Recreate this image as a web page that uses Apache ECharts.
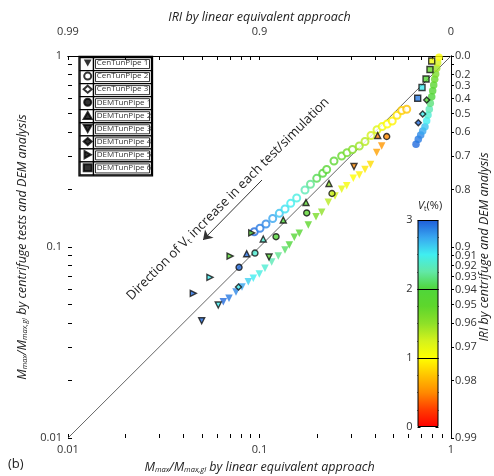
<!DOCTYPE html>
<html lang="en">
<head>
<meta charset="UTF-8">
<title>IRI comparison</title>
<script src="https://cdn.jsdelivr.net/npm/echarts@6/dist/echarts.min.js"></script>
<style>html,body{margin:0;padding:0;background:#fff;}</style>
</head>
<body>
<div id="main" style="width:494px;height:476px;"></div>
<script>
// ---- data (Mmax/Mmax,gl linear equivalent, centrifuge/DEM, Vt %) ----
var cen1X = [0.0647,0.0693,0.0754,0.0810,0.0874,0.0928,0.0998,0.1068,0.1158,0.1254,0.1359,0.1431,0.1520,0.1614,0.1798,0.1972,0.2113,0.2287,0.2479,0.2686,0.2853,0.3089,0.3320,0.3556,0.3799,0.4093,0.4346];
var cen1Y = [0.0517,0.0539,0.0581,0.0617,0.0658,0.0686,0.0722,0.0774,0.0835,0.0897,0.0965,0.1024,0.1124,0.1180,0.1304,0.1441,0.1520,0.1714,0.1849,0.2005,0.2094,0.2289,0.2382,0.2545,0.2704,0.3126,0.3380];
var cen1V = [2.95,2.9,2.85,2.75,2.6,2.5,2.45,2.4,2.3,2.2,2.1,2.0,1.9,1.85,1.75,1.6,1.5,1.35,1.25,1.15,1.05,1.0,0.95,0.9,0.85,0.6,0.55];

var cen2X = [0.0939,0.1006,0.1081,0.1172,0.1269,0.1359,0.1455,0.1564,0.1728,0.1846,0.1990,0.2138,0.2243,0.2449,0.2686,0.2863,0.3059,0.3320,0.3556,0.3822,0.4109,0.4372,0.4643,0.4932,0.5224,0.5529,0.5872];
var cen2Y = [0.1202,0.1253,0.1319,0.1410,0.1501,0.1581,0.1693,0.1805,0.1988,0.2130,0.2289,0.2431,0.2545,0.2820,0.2995,0.3118,0.3240,0.3380,0.3568,0.3835,0.4113,0.4270,0.4406,0.4568,0.4892,0.5186,0.5260];
var cen2V = [2.95,2.9,2.85,2.75,2.65,2.55,2.5,2.45,2.3,2.2,2.05,1.95,1.85,1.8,1.7,1.65,1.55,1.45,1.35,1.25,1.2,1.1,1.0,0.95,0.9,0.8,0.75];

var cen3X = [0.6565,0.6749,0.6947,0.7115,0.7314,0.7465,0.7583,0.7703,0.7796,0.7929,0.8024,0.8124,0.8220,0.8319,0.8419,0.8519,0.8657];
var cen3Y = [0.3449,0.3664,0.3859,0.4049,0.4264,0.4585,0.4911,0.5260,0.5654,0.6123,0.6581,0.7051,0.7551,0.8052,0.8625,0.9224,0.9845];
var cen3V = [2.95,2.9,2.85,2.75,2.65,2.5,2.4,2.3,2.15,2.0,1.9,1.8,1.7,1.6,1.45,1.25,1.0];

var dem1X = [0.4615,0.2391,0.1764,0.1220,0.0947,0.0782];
var dem1Y = [0.3789,0.1906,0.1507,0.1132,0.0930,0.0783];
var dem1V = [0.5,1.3,1.8,1.95,2.4,2.95];

var dem2X = [0.4142,0.2306,0.1749,0.1331,0.1046,0.0857];
var dem2Y = [0.3835,0.2150,0.1710,0.1385,0.1101,0.0922];
var dem2V = [0.45,1.5,1.8,2.0,2.4,2.95];

var dem3X = [0.3115,0.1121,0.0609,0.0499];
var dem3Y = [0.2639,0.0886,0.0497,0.0411];
var dem3V = [0.5,1.9,2.5,2.95];

var dem4X = [0.7465,0.7115,0.6749,0.0777];
var dem4Y = [0.5886,0.4969,0.4475,0.0617];
var dem4V = [1.9,2.5,2.95,2.5];

var dem5X = [0.0911,0.0702,0.0551,0.0451];
var dem5Y = [0.1184,0.0897,0.0694,0.0572];
var dem5V = [1.8,1.9,2.5,2.95];

var dem6X = [0.7929,0.7767,0.7407,0.7058,0.6701];
var dem6Y = [0.9414,0.8498,0.7579,0.6841,0.6006];
var dem6V = [1.1,1.7,1.9,2.5,2.9];

var seriesNames = ['CenTunPipe 1','CenTunPipe 2','CenTunPipe 3','DEMTunPipe 1','DEMTunPipe 2','DEMTunPipe 3','DEMTunPipe 4','DEMTunPipe 5','DEMTunPipe 6'];
var downTri = 'path://M0,0 L10,0 L5,9 Z';
var rightTri = 'path://M0,0 L9,5 L0,10 Z';
var legendIcons = [downTri,'emptyCircle','emptyDiamond','circle','triangle',downTri,'diamond',rightTri,'rect'];

// ---- ticks ----
var decadeValues = [0.01, 0.1, 1];
var bottomLabels = ['0.01', '0.1', '1'];
var topLabels = ['0.99', '0.9', '0'];
var minorValues = [0.01,0.02,0.03,0.04,0.05,0.06,0.07,0.08,0.09,0.1,0.2,0.3,0.4,0.5,0.6,0.7,0.8,0.9,1];
var iriValues = [1,0.9,0.8,0.7,0.6,0.5,0.4,0.3,0.2,0.1,0.09,0.08,0.07,0.06,0.05,0.04,0.03,0.02,0.01];
var iriLabels = ['0.0','0.1','0.2','0.3','0.4','0.5','0.6','0.7','0.8','0.9','0.91','0.92','0.93','0.94','0.95','0.96','0.97','0.98','0.99'];

// colour scale for Vt (%)
var vStops = [0,0.25,0.5,0.75,1,1.25,1.5,1.75,2,2.25,2.5,2.75,3];
var vColors = ['#ff0000','#ff3c00','#ff8a00','#ffc400','#ffff00','#d4f21c','#8ee028','#5ed62c','#4fd63a','#62e8a6','#40eef0','#38a6f0','#1e5cd8'];

var font = 'Open Sans';
var mychart = echarts.init(document.getElementById('main'));

function pts(xs, ys, vs) {
    return xs.map(function (x, i) { return [x, ys[i], vs[i]]; });
}
function lookup(vals, labels) {
    return function (v) {
        for (var i = 0; i < vals.length; i++) {
            if (Math.abs(vals[i] - v) < vals[i] * 1e-6) return labels[i];
        }
        return '';
    };
}
// tick marks of the log axes, drawn by plain value axes in log10 space
function tickAxis(pos, values, inside, len) {
    return {
        type: 'value', gridIndex: 0, position: pos, min: -2, max: 0,
        axisLine: {show: false}, axisLabel: {show: false}, splitLine: {show: false},
        axisTick: {show: true, inside: inside, length: len, lineStyle: {color: '#000', width: 1},
            customValues: values.map(function (v) { return Math.log10(v); })}
    };
}

var nameRich = {
    i: {fontStyle: 'italic', fontSize: 12.5, fontFamily: font, color: '#222'},
    s: {fontStyle: 'italic', fontSize: 7.5, fontFamily: font, color: '#222', padding: [5, 0, 0, 0]}
};

function dem(name, symbol, rotate, xs, ys, vs) {
    return {
        name: name, type: 'scatter', symbol: symbol, symbolRotate: rotate, symbolSize: 6,
        data: pts(xs, ys, vs), z: 5,
        itemStyle: {color: '#000', borderColor: '#111', borderWidth: 1.4}
    };
}

// legend table cells
var rowH = 13.05, tableTop = 57.5, tableLeft = 80;
var cells = [];
seriesNames.forEach(function (n, i) {
    var y = tableTop + i * rowH;
    cells.push({type: 'rect', shape: {x: tableLeft, y: y, width: 13.5, height: rowH}, style: {fill: '#fff', stroke: '#000', lineWidth: 1.3}, z: 0});
    cells.push({type: 'rect', shape: {x: tableLeft + 13.5, y: y, width: 58, height: rowH}, style: {fill: '#fff', stroke: '#000', lineWidth: 1.3}, z: 0});
    cells.push({type: 'rect', shape: {x: tableLeft + 15.5, y: y + 2, width: 54, height: rowH - 4}, style: {fill: 'none', stroke: '#000', lineWidth: 0.8}, z: 0});
});
cells.push({type: 'rect', shape: {x: tableLeft - 1, y: tableTop - 1, width: 73.5, height: rowH * 9 + 2}, style: {fill: 'none', stroke: '#000', lineWidth: 1.3}, z: 0});

mychart.setOption({
    animation: false,
    textStyle: {fontFamily: font},
    grid: [
        {left: 68, top: 56, width: 383, height: 382, outerBoundsMode: 'none'},
        {left: 417.5, top: 220, width: 21, height: 207, outerBoundsMode: 'none'}
    ],
    visualMap: {
        type: 'continuous', show: false, min: 0, max: 3, dimension: 2,
        seriesIndex: [1, 2, 3, 4, 5, 6, 7, 8, 9],
        inRange: {color: vColors}
    },
    legend: {
        orient: 'vertical', left: 82.7, top: 58.5, padding: 0, z: 6,
        itemWidth: 8, itemHeight: 7, itemGap: 4.1, selectedMode: false,
        textStyle: {fontSize: 8, color: '#333', fontFamily: font, lineHeight: 9},
        itemStyle: {color: '#000', borderColor: '#000'},
        data: seriesNames.map(function (n, i) {
            return {name: n, icon: legendIcons[i]};
        })
    },
    xAxis: [
        {
            type: 'log', logBase: 10, min: 0.01, max: 1, gridIndex: 0, position: 'bottom',
            name: '{i|M}{s|max}{i|/M}{s|max,gl}{i| by linear equivalent approach}',
            nameLocation: 'middle', nameGap: 23, nameMoveOverlap: false, nameTextStyle: {rich: nameRich},
            axisLine: {lineStyle: {color: '#000', width: 1}},
            axisTick: {show: false},
            axisLabel: {customValues: decadeValues, formatter: lookup(decadeValues, bottomLabels), fontSize: 11, color: '#333', margin: 6, showMinLabel: true, showMaxLabel: true},
            splitLine: {show: false}
        },
        {
            type: 'log', logBase: 10, min: 0.01, max: 1, gridIndex: 0, position: 'top',
            name: 'IRI by linear equivalent approach',
            nameLocation: 'middle', nameGap: 32, nameMoveOverlap: false,
            nameTextStyle: {fontStyle: 'italic', fontSize: 12.5, color: '#222'},
            axisLine: {lineStyle: {color: '#000', width: 1}},
            axisTick: {show: false},
            axisLabel: {customValues: decadeValues, formatter: lookup(decadeValues, topLabels), fontSize: 11, color: '#333', margin: 19, showMinLabel: true, showMaxLabel: true},
            splitLine: {show: false}
        },
        {
            type: 'category', gridIndex: 1, data: ['Vt'], show: false
        },
        tickAxis('bottom', minorValues, true, 4),
        tickAxis('top', minorValues, true, 4)
    ],
    yAxis: [
        {
            type: 'log', logBase: 10, min: 0.01, max: 1, gridIndex: 0, position: 'left',
            name: '{i|M}{s|max}{i|/M}{s|max,gl}{i| by centrifuge tests and DEM analysis}',
            nameLocation: 'middle', nameGap: 39, nameMoveOverlap: false, nameTextStyle: {rich: nameRich},
            axisLine: {lineStyle: {color: '#000', width: 1}},
            axisTick: {show: false},
            axisLabel: {customValues: decadeValues, formatter: lookup(decadeValues, bottomLabels), fontSize: 11, color: '#333', margin: 6, showMinLabel: true, showMaxLabel: true},
            splitLine: {show: false}
        },
        {
            type: 'log', logBase: 10, min: 0.01, max: 1, gridIndex: 0, position: 'right',
            name: 'IRI by centrifuge and DEM analysis',
            nameLocation: 'middle', nameGap: 27, nameMoveOverlap: false,
            nameTextStyle: {fontStyle: 'italic', fontSize: 12.5, color: '#222'},
            axisLine: {lineStyle: {color: '#000', width: 1}},
            axisTick: {show: false},
            axisLabel: {customValues: iriValues, formatter: lookup(iriValues, iriLabels), fontSize: 11, color: '#333', margin: 4, hideOverlap: false, showMinLabel: true, showMaxLabel: true},
            splitLine: {show: false}
        },
        {
            type: 'value', gridIndex: 1, min: 0, max: 3, interval: 1, position: 'left',
            axisLine: {show: false},
            axisTick: {show: true, inside: true, length: 3, lineStyle: {color: '#000'}},
            minorTick: {show: true, splitNumber: 4, length: 3, lineStyle: {color: '#000'}},
            axisLabel: {fontSize: 11, color: '#333', margin: 5},
            splitLine: {show: false}
        },
        {
            type: 'value', gridIndex: 1, min: 0, max: 3, interval: 1, position: 'right',
            axisLine: {show: false},
            axisTick: {show: true, inside: true, length: 3, lineStyle: {color: '#000'}},
            minorTick: {show: true, splitNumber: 4, length: 3, lineStyle: {color: '#000'}},
            axisLabel: {show: false},
            splitLine: {show: false}
        },
        tickAxis('left', minorValues, true, 4),
        tickAxis('right', iriValues, false, 3)
    ],
    series: [
        {
            type: 'line', data: [[0.01, 0.01], [1, 1]], symbol: 'none', silent: true, z: 1,
            lineStyle: {color: '#666', width: 1},
            markLine: {
                silent: true, symbol: ['none', 'arrow'], symbolSize: 9,
                lineStyle: {color: '#333', width: 1, type: 'solid'}, label: {show: false},
                data: [[{coord: [0.103, 0.2242]}, {coord: [0.0507, 0.1088]}]]
            }
        },
        {
            name: 'CenTunPipe 1', type: 'scatter', symbol: 'triangle', symbolRotate: 180, symbolSize: 7.5,
            data: pts(cen1X, cen1Y, cen1V), itemStyle: {color: '#000'}
        },
        {
            name: 'CenTunPipe 2', type: 'scatter', symbol: 'emptyCircle', symbolSize: 7,
            data: pts(cen2X, cen2Y, cen2V), itemStyle: {color: '#000', borderWidth: 2}
        },
        {
            name: 'CenTunPipe 3', type: 'scatter', symbol: 'circle', symbolSize: 7.5,
            data: pts(cen3X, cen3Y, cen3V), itemStyle: {color: '#000'}
        },
        dem('DEMTunPipe 1', 'circle', 0, dem1X, dem1Y, dem1V),
        dem('DEMTunPipe 2', 'triangle', 0, dem2X, dem2Y, dem2V),
        dem('DEMTunPipe 3', 'triangle', 180, dem3X, dem3Y, dem3V),
        dem('DEMTunPipe 4', 'diamond', 0, dem4X, dem4Y, dem4V),
        dem('DEMTunPipe 5', 'triangle', -90, dem5X, dem5Y, dem5V),
        dem('DEMTunPipe 6', 'rect', 0, dem6X, dem6Y, dem6V),
        {
            type: 'bar', xAxisIndex: 2, yAxisIndex: 2, data: [3], barWidth: '100%', silent: true,
            itemStyle: {
                borderColor: '#000', borderWidth: 1,
                color: {
                    type: 'linear', x: 0, y: 1, x2: 0, y2: 0,
                    colorStops: vStops.map(function (v, i) { return {offset: v / 3, color: vColors[i]}; })
                }
            },
            markLine: {
                silent: true, symbol: 'none', label: {show: false},
                lineStyle: {color: '#000', width: 1, type: 'solid'},
                data: [{yAxis: 1}, {yAxis: 2}]
            }
        }
    ],
    graphic: cells.concat([
        {
            type: 'text', x: 228, y: 199, rotation: Math.PI / 4, z: 10,
            style: {
                text: 'Direction of {i|V}{s|t} increase in each test/simulation',
                align: 'center', verticalAlign: 'middle', fontSize: 13, fontFamily: font, fill: '#222',
                rich: {i: {fontSize: 13, fontFamily: font, fill: '#222'}, s: {fontSize: 8, fontFamily: font, fill: '#222', padding: [6, 0, 0, 0]}}
            }
        },
        {
            type: 'text', x: 418, y: 206, z: 10,
            style: {
                text: '{i|V}{s|t}{n|(%)}', verticalAlign: 'middle',
                rich: {i: {fontSize: 11, fontStyle: 'italic', fontFamily: font, fill: '#222'}, s: {fontSize: 7, fontFamily: font, fill: '#222', padding: [5, 0, 0, 0]}, n: {fontSize: 11, fontFamily: font, fill: '#222'}}
            }
        },
        {
            type: 'text', x: 8, y: 464, z: 10,
            style: {text: '(b)', fontSize: 13, fontFamily: font, fill: '#222', verticalAlign: 'middle'}
        }
    ])
});
</script>
</body>
</html>
